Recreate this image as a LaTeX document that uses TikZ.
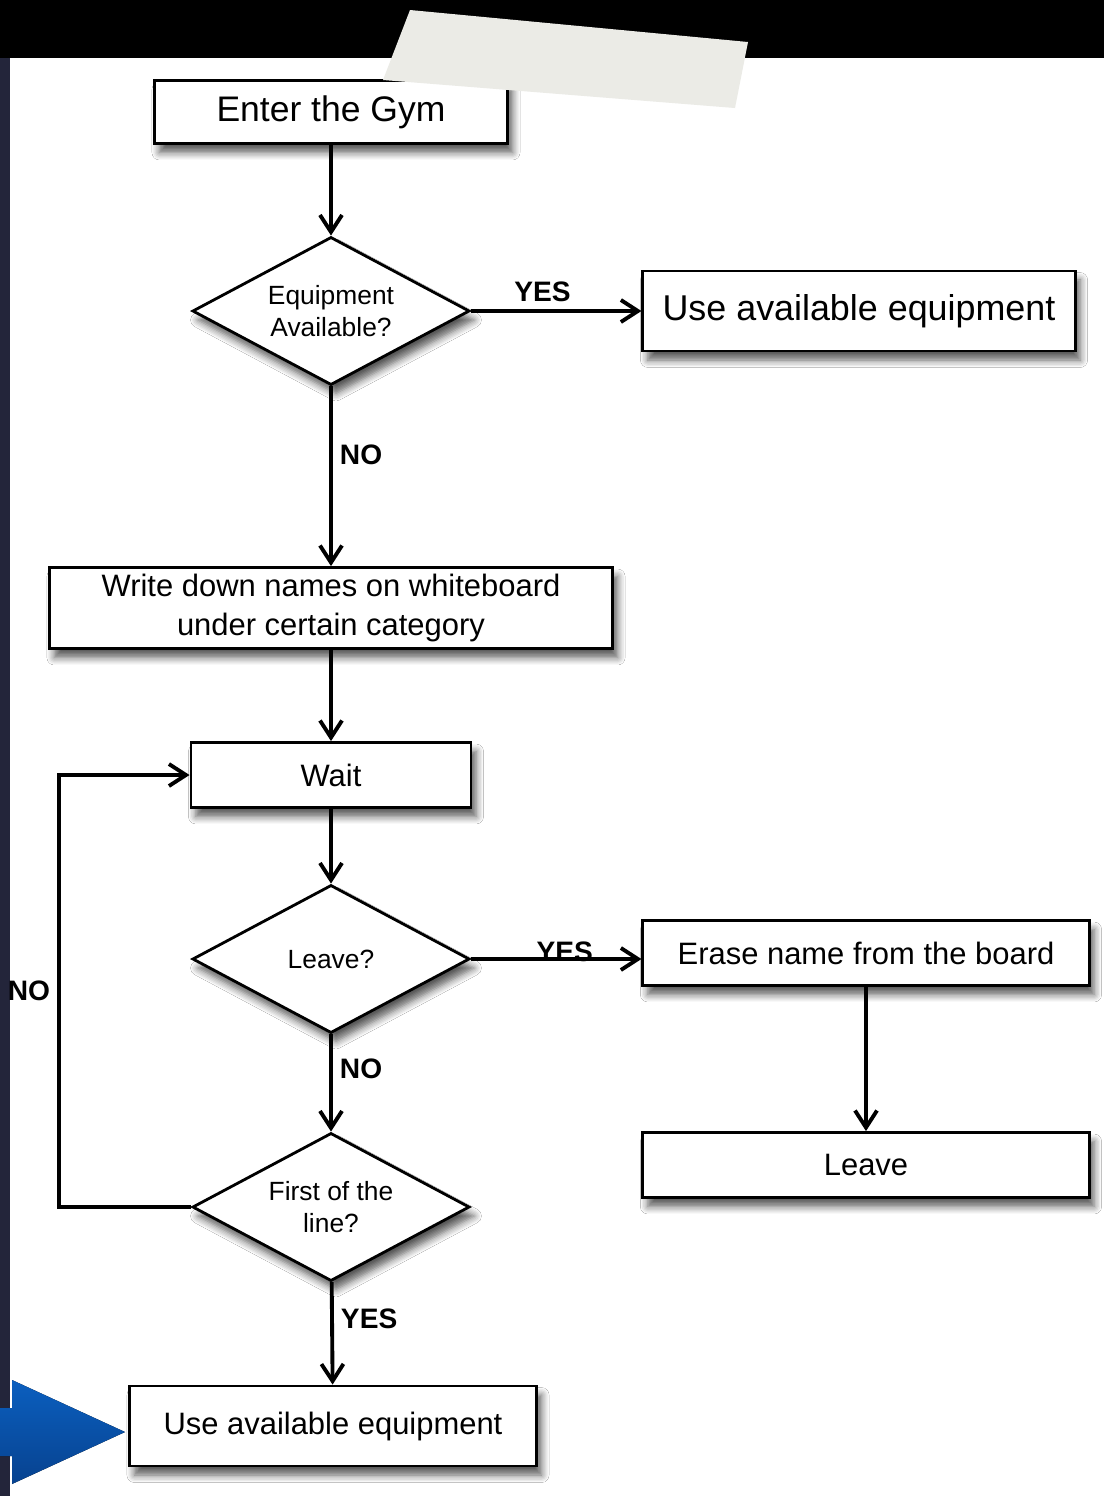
\documentclass[tikz,border=0pt]{standalone}
\usepackage{fontspec}
\setmainfont{Liberation Sans}
\usepackage{tikz}
\usetikzlibrary{shapes.geometric,arrows.meta,positioning,shadows.blur}
\definecolor{pagenavy}{HTML}{23253A}
\definecolor{tapegrey}{HTML}{EBEBE6}
\definecolor{pointblue}{HTML}{0B5FBF}
\definecolor{pointdark}{HTML}{07428F}

\tikzset{
  box/.style={rectangle, draw=black, line width=0.8pt, fill=white, inner sep=0pt,
    blur shadow={shadow xshift=0.5mm, shadow yshift=-0.9mm, shadow blur steps=6, shadow opacity=65}},
  decision/.style={diamond, aspect=1.87, draw=black, line width=0.8pt, fill=white, inner sep=0pt,
    minimum width=2.77cm, minimum height=1.48cm, align=center, font=\fontsize{7.5}{9}\selectfont,
    blur shadow={shadow xshift=0.5mm, shadow yshift=-0.9mm, shadow blur steps=6, shadow opacity=65}},
  flow/.style={-{Straight Barb[length=1.7mm,width=2.2mm,line width=1.1pt]}, line width=1.1pt},
  answer/.style={font=\bfseries\fontsize{8}{9}\selectfont, inner sep=2pt}
}

\begin{document}
\begin{tikzpicture}[x=0.01cm, y=-0.01cm, auto]
   \useasboundingbox (0,0) rectangle (1104,1496);
   \fill[black] (0,0) rectangle (1104,1496);
   \fill[pagenavy] (0,58) rectangle (10,1496);
   \fill[white] (10,58) rectangle (1104,1496);

   \begin{scope}[every node/.style={box, font=\fontsize{8.8}{11.3}\selectfont}]
    \node (enter) at (331,112) [minimum width=3.53cm, minimum height=0.63cm, font=\fontsize{10.1}{12}\selectfont] {Enter the Gym};
    \node (usetop) at (859,311) [minimum width=4.32cm, minimum height=0.80cm, font=\fontsize{10.2}{12}\selectfont] {Use available equipment};
    \node (write) at (331,608) [minimum width=5.63cm, minimum height=0.81cm, align=center] {Write down names on whiteboard\\under certain category};
    \node (wait) at (331,775) [minimum width=2.80cm, minimum height=0.65cm] {Wait};
    \node (erase) at (866,953) [minimum width=4.46cm, minimum height=0.65cm] {Erase name from the board};
    \node (leave) at (866,1165) [minimum width=4.46cm, minimum height=0.65cm] {Leave};
    \node (usebot) at (333,1426) [minimum width=4.07cm, minimum height=0.80cm] {Use available equipment};
   \end{scope}

   \node[decision] (equip) at (331,311) {Equipment\\Available?};
   \node[decision] (leaveq) at (331,959) {Leave?};
   \node[decision] (first) at (331,1207) {First of the\\line?};

   \begin{scope}[every edge/.style={draw=black, flow}]
    \draw (enter) edge node{} (equip);
    \draw (equip) edge node[answer, pos=0.42]{YES} (usetop);
    \draw (equip) edge node[answer, pos=0.38]{NO} (write);
    \draw (write) edge node{} (wait);
    \draw (wait) edge node{} (leaveq);
    \draw (leaveq) edge node[answer, pos=0.35]{NO} (first);
    \draw (first) edge node[answer, pos=0.36]{YES} (usebot);
    \draw (erase) edge node{} (leave);
   \end{scope}
   \draw[flow] (leaveq.east) -- node[answer, pos=0.55, above, yshift=-1.2mm]{YES} (leaveq.east -| erase.west);
   \coordinate (bend) at (59,1207);
   \draw[flow] (first.west) -- (bend) |- node[answer, pos=0.25, left]{NO} (wait.west);

   \fill[tapegrey] (410,10) -- (748,42) -- (735,108) -- (383,80) -- cycle;
   \fill[top color=pointblue, bottom color=pointdark] (0,1408) -- (12,1408) -- (12,1380) -- (125,1432) -- (12,1484) -- (12,1456) -- (0,1456) -- cycle;
\end{tikzpicture}
\end{document}
